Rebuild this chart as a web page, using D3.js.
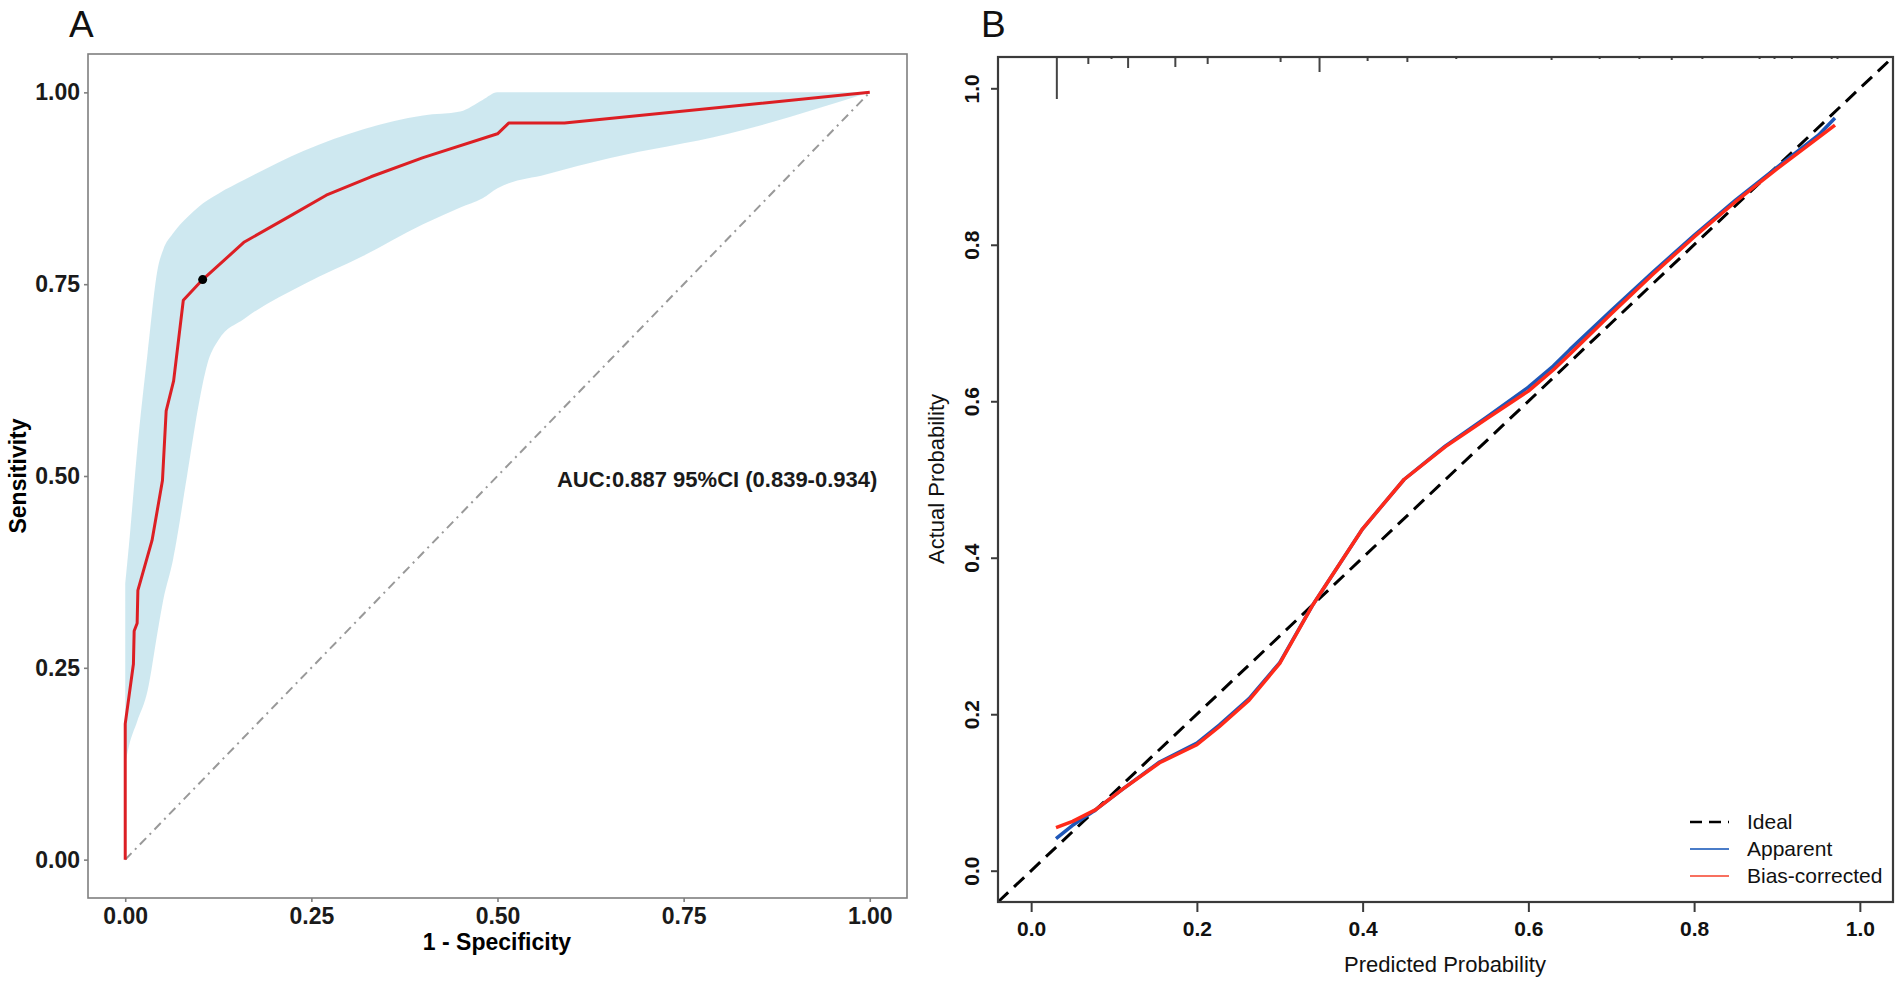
<!DOCTYPE html>
<html>
<head>
<meta charset="utf-8">
<script src="https://cdn.jsdelivr.net/npm/d3@7"></script>
<style>
  html, body { margin: 0; padding: 0; background: #fff; }
  svg { display: block; font-family: "Liberation Sans", Arial, sans-serif; }
</style>
</head>
<body>
<svg id="chart" width="1902" height="985"></svg>
<script>
// ---- panel A: ROC curve ----
var rocFpr  = [0, 0, 0.011, 0.012, 0.016, 0.017, 0.036, 0.05, 0.055, 0.065, 0.078, 0.104, 0.16, 0.22, 0.27, 0.33, 0.40, 0.50, 0.515, 0.59, 1.0];
var rocSens = [0, 0.177, 0.255, 0.298, 0.308, 0.351, 0.416, 0.494, 0.585, 0.624, 0.729, 0.756, 0.805, 0.838, 0.866, 0.89, 0.915, 0.946, 0.96, 0.96, 1.0];
var cutoff = [0.104, 0.756];

// confidence band of sensitivity
var ciFpr   = [0, 0.005, 0.016, 0.03, 0.044, 0.051, 0.064, 0.083, 0.10, 0.11, 0.125, 0.16, 0.24, 0.32, 0.40, 0.45, 0.48, 0.50, 0.565, 0.65, 0.81, 1.0];
var ciUpper = [0.36, 0.41, 0.533, 0.66, 0.772, 0.795, 0.816, 0.837, 0.852, 0.859, 0.868, 0.886, 0.924, 0.952, 0.97, 0.975, 0.99, 1.0, 1.0, 1.0, 1.0, 1.0];
var ciLower = [0.125, 0.148, 0.18, 0.22, 0.30, 0.338, 0.39, 0.50, 0.60, 0.645, 0.677, 0.705, 0.75, 0.787, 0.828, 0.85, 0.862, 0.875, 0.893, 0.914, 0.946, 1.0];

var ticksA = [0, 0.25, 0.5, 0.75, 1];
var aucLabel = "AUC:0.887 95%CI (0.839-0.934)";
var aucPos = [0.795, 0.5];

// ---- panel B: calibration curve ----
var calPred     = [0.03, 0.05, 0.078, 0.11, 0.155, 0.2, 0.227, 0.263, 0.30, 0.34, 0.40, 0.45, 0.50, 0.55, 0.60, 0.63, 0.65, 0.70, 0.75, 0.80, 0.85, 0.90, 0.95, 0.97];
var apparent    = [0.041, 0.058, 0.078, 0.104, 0.139, 0.163, 0.186, 0.22, 0.266, 0.34, 0.437, 0.50, 0.543, 0.58, 0.618, 0.645, 0.666, 0.716, 0.765, 0.812, 0.857, 0.899, 0.94, 0.962];
var biasCorr    = [0.055, 0.063, 0.078, 0.104, 0.138, 0.161, 0.184, 0.218, 0.265, 0.34, 0.437, 0.50, 0.542, 0.578, 0.613, 0.64, 0.66, 0.712, 0.762, 0.81, 0.855, 0.897, 0.937, 0.953];

// rug of predicted probabilities (relative frequency)
var rugPred = [0.031, 0.069, 0.097, 0.117, 0.174, 0.213, 0.301, 0.348, 0.406, 0.454, 0.513, 0.628, 0.686, 0.734, 0.773, 0.810, 0.879, 0.897, 0.918, 0.966, 0.973];
var rugFreq = [42, 7, 2, 11, 10, 7, 5, 15, 4, 5, 2, 3, 2, 2, 3, 2, 2, 2, 2, 2, 2];

var ticksB = [0, 0.2, 0.4, 0.6, 0.8, 1.0];
var legendLabels = ["Ideal", "Apparent", "Bias-corrected"];

var svg = d3.select("#chart");

// ================= panel A =================
var xA = d3.scaleLinear().domain([-0.05, 1.05]).range([88, 907]);
var yA = d3.scaleLinear().domain([-0.05, 1.05]).range([898, 54]);

var gA = svg.append("g");

// ribbon
var band = ciFpr.map((x, i) => ({ x: x, lo: ciLower[i], hi: ciUpper[i] }));
gA.append("path")
    .datum(band)
    .attr("d", d3.area().curve(d3.curveMonotoneX).x(d => xA(d.x)).y0(d => yA(d.lo)).y1(d => yA(d.hi)))
    .attr("fill", "#add8e6")
    .attr("fill-opacity", 0.6);

// chance line
gA.append("path")
    .datum([0, 1])
    .attr("d", d3.line().x(d => xA(d)).y(d => yA(d)))
    .attr("stroke", "#999")
    .attr("stroke-width", 2)
    .attr("stroke-dasharray", "9,5,2,5")
    .attr("fill", "none");

// roc line
var roc = rocFpr.map((x, i) => [x, rocSens[i]]);
gA.append("path")
    .datum(roc)
    .attr("d", d3.line().x(d => xA(d[0])).y(d => yA(d[1])))
    .attr("stroke", "#dc1f24")
    .attr("stroke-width", 3)
    .attr("stroke-linejoin", "round")
    .attr("fill", "none");

gA.append("circle")
    .attr("cx", xA(cutoff[0]))
    .attr("cy", yA(cutoff[1]))
    .attr("r", 4.5)
    .attr("fill", "#000");

// border
gA.append("rect")
    .attr("x", 88).attr("y", 54)
    .attr("width", 907 - 88).attr("height", 898 - 54)
    .attr("fill", "none")
    .attr("stroke", "#7f7f7f")
    .attr("stroke-width", 1.6);

// axes
var axA_left = gA.append("g")
    .attr("transform", "translate(88,0)")
    .call(d3.axisLeft(yA).tickValues(ticksA).tickFormat(d3.format(".2f")).tickSize(4).tickPadding(4));
var axA_bottom = gA.append("g")
    .attr("transform", "translate(0,898)")
    .call(d3.axisBottom(xA).tickValues(ticksA).tickFormat(d3.format(".2f")).tickSize(4).tickPadding(6));
[axA_left, axA_bottom].forEach(function(ax) {
    ax.select(".domain").remove();
    ax.selectAll("line").attr("stroke", "#7f7f7f").attr("stroke-width", 1.6);
    ax.selectAll("text")
        .attr("fill", "#1a1a1a")
        .style("font-size", "23px")
        .style("font-weight", "bold")
        .style("font-family", "Liberation Sans, Arial, sans-serif");
});

gA.append("text")
    .attr("transform", "translate(26,476) rotate(-90)")
    .attr("text-anchor", "middle")
    .style("font-size", "23px").style("font-weight", "bold")
    .attr("fill", "#000")
    .text("Sensitivity");

gA.append("text")
    .attr("x", 497).attr("y", 950)
    .attr("text-anchor", "middle")
    .style("font-size", "23px").style("font-weight", "bold")
    .attr("fill", "#000")
    .text("1 - Specificity");

gA.append("text")
    .attr("x", xA(aucPos[0])).attr("y", yA(aucPos[1]) + 11)
    .attr("text-anchor", "middle")
    .style("font-size", "22px").style("font-weight", "bold")
    .attr("fill", "#1a1a1a")
    .text(aucLabel);

svg.append("text")
    .attr("x", 69).attr("y", 37)
    .style("font-size", "37px")
    .attr("fill", "#111")
    .text("A");

// ================= panel B =================
var xB = d3.scaleLinear().domain([-0.04, 1.04]).range([998, 1893]);
var yB = d3.scaleLinear().domain([-0.04, 1.04]).range([902, 57]);

var gB = svg.append("g");

// ideal line across the whole box
gB.append("path")
    .datum(xB.domain())
    .attr("d", d3.line().x(d => xB(d)).y(d => yB(d)))
    .attr("stroke", "#000")
    .attr("stroke-width", 3)
    .attr("stroke-dasharray", "14,8")
    .attr("fill", "none");

var lineB = d3.line().x(d => xB(d[0])).y(d => yB(d[1]));

gB.append("path")
    .datum(calPred.map((p, i) => [p, apparent[i]]))
    .attr("d", lineB)
    .attr("stroke", "#1f57b8")
    .attr("stroke-width", 3.5)
    .attr("stroke-linejoin", "round")
    .attr("fill", "none");

gB.append("path")
    .datum(calPred.map((p, i) => [p, biasCorr[i]]))
    .attr("d", lineB)
    .attr("stroke", "#ff2a1a")
    .attr("stroke-width", 3.5)
    .attr("stroke-linejoin", "round")
    .attr("fill", "none");

// rug ticks from top border
var rugLen = d3.scaleLinear().domain([0, d3.max(rugFreq)]).range([0, 42]);
gB.selectAll(".rug")
    .data(rugPred)
    .enter()
    .append("line")
    .attr("x1", d => xB(d)).attr("x2", d => xB(d))
    .attr("y1", 57)
    .attr("y2", (d, i) => 57 + rugLen(rugFreq[i]))
    .attr("stroke", "#444")
    .attr("stroke-width", 2);

gB.append("rect")
    .attr("x", 998).attr("y", 57)
    .attr("width", 1893 - 998).attr("height", 902 - 57)
    .attr("fill", "none")
    .attr("stroke", "#3a3a3a")
    .attr("stroke-width", 2.2);

var axB_left = gB.append("g")
    .attr("transform", "translate(998,0)")
    .call(d3.axisLeft(yB).tickValues(ticksB).tickFormat(d3.format(".1f")).tickSize(7));
axB_left.selectAll("text")
    .attr("x", null).attr("dy", null)
    .attr("transform", "translate(-19,0) rotate(-90)")
    .attr("text-anchor", "middle");

var axB_bottom = gB.append("g")
    .attr("transform", "translate(0,902)")
    .call(d3.axisBottom(xB).tickValues(ticksB).tickFormat(d3.format(".1f")).tickSize(10).tickPadding(9));

[axB_left, axB_bottom].forEach(function(ax) {
    ax.select(".domain").remove();
    ax.selectAll("line").attr("stroke", "#3a3a3a").attr("stroke-width", 2);
    ax.selectAll("text")
        .attr("fill", "#111")
        .style("font-size", "21px")
        .style("font-weight", "bold")
        .style("font-family", "Liberation Sans, Arial, sans-serif");
});

gB.append("text")
    .attr("transform", "translate(944,479) rotate(-90)")
    .attr("text-anchor", "middle")
    .style("font-size", "22px")
    .attr("fill", "#111")
    .text("Actual Probability");

gB.append("text")
    .attr("x", 1445).attr("y", 972)
    .attr("text-anchor", "middle")
    .style("font-size", "22px")
    .attr("fill", "#111")
    .text("Predicted Probability");

// legend
var legendStyles = [
    { color: "#000", width: 2.5, dash: "12,7" },
    { color: "#4a7cc8", width: 2.2, dash: null },
    { color: "#f8705f", width: 2.2, dash: null }
];
var legendY = d3.scalePoint().domain(legendLabels).range([822, 876]);
var leg = gB.selectAll(".leg")
    .data(legendLabels)
    .enter()
    .append("g")
    .attr("transform", d => "translate(0," + legendY(d) + ")");
leg.append("line")
    .attr("x1", 1690).attr("x2", 1729)
    .attr("stroke", (d, i) => legendStyles[i].color)
    .attr("stroke-width", (d, i) => legendStyles[i].width)
    .attr("stroke-dasharray", (d, i) => legendStyles[i].dash);
leg.append("text")
    .attr("x", 1747).attr("dy", "0.35em")
    .style("font-size", "21px")
    .attr("fill", "#111")
    .text(d => d);

svg.append("text")
    .attr("x", 981).attr("y", 37)
    .style("font-size", "37px")
    .attr("fill", "#111")
    .text("B");
</script>
</body>
</html>
